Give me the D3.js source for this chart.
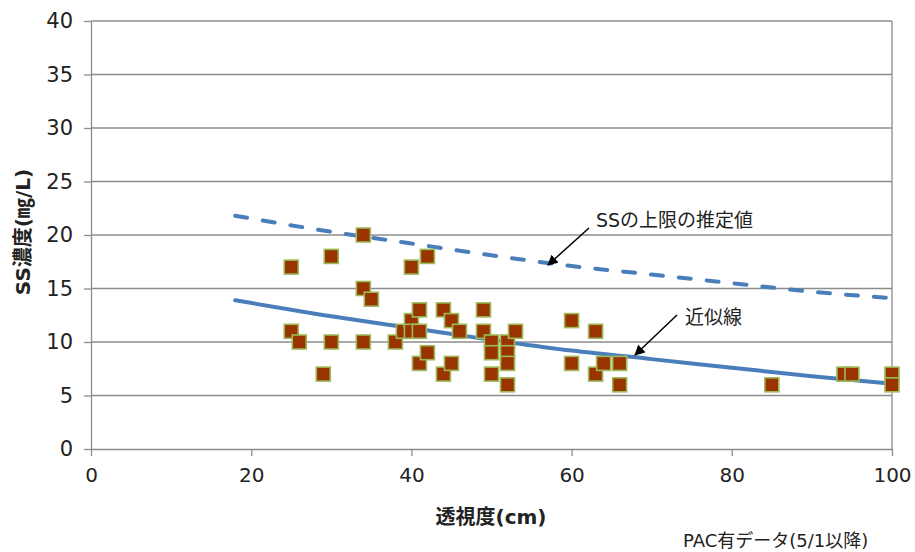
<!DOCTYPE html>
<html>
<head>
<meta charset="utf-8">
<script src="https://cdn.jsdelivr.net/npm/d3@7"></script>
<style>
  body { margin: 0; background: #fff; }
  text { font-family: "DejaVu Sans", "Noto Sans CJK JP", sans-serif; fill: #222; }
</style>
</head>
<body>
<svg width="915" height="552"></svg>
<script>
// measured points: transparency (cm) vs SS (mg/L)
var pointX = [25, 25, 26, 29, 30, 30, 34, 34, 34, 35, 38, 39, 40, 40, 40, 41, 41, 41, 42, 42,
              44, 44, 45, 45, 46, 49, 49, 50, 50, 50, 52, 52, 52, 52, 53,
              60, 60, 63, 63, 64, 66, 66, 85, 94, 95, 100, 100];
var pointY = [17, 11, 10, 7, 18, 10, 20, 15, 10, 14, 10, 11, 17, 12, 11, 11, 13, 8, 18, 9,
              13, 7, 12, 8, 11, 13, 11, 10, 9, 7, 10, 9, 8, 6, 11,
              12, 8, 11, 7, 8, 8, 6, 6, 7, 7, 7, 6];

// trend line and upper estimate
var lineX = [18, 30, 40, 50, 60, 70, 80, 90, 100];
var trendY = [13.9, 12.4, 11.3, 10.2, 9.2, 8.4, 7.6, 6.8, 6.1];
var upperY = [21.8, 20.3, 19.2, 18.1, 17.1, 16.3, 15.5, 14.7, 14.1];

var xTicks = [0, 20, 40, 60, 80, 100];
var yTicks = [0, 5, 10, 15, 20, 25, 30, 35, 40];

var plotLeft = 91, plotRight = 892, plotTop = 21, plotBottom = 449;
var gridColor = '#8c8c8c';
var lineColor = '#4a7ebb';

var svg = d3.select('svg');
var x = d3.scaleLinear().domain([0, 100]).range([plotLeft, plotRight]);
var y = d3.scaleLinear().domain([0, 40]).range([plotBottom, plotTop]);

// horizontal gridlines
svg.append('g').selectAll('line').data(yTicks.filter(function(d){ return d > 0; }))
  .enter().append('line')
    .attr('x1', plotLeft).attr('x2', plotRight)
    .attr('y1', function(d){ return y(d); })
    .attr('y2', function(d){ return y(d); })
    .attr('stroke', gridColor).attr('stroke-width', 1.3);

// right border of plot area
svg.append('line')
  .attr('x1', plotRight).attr('x2', plotRight).attr('y1', plotTop).attr('y2', plotBottom)
  .attr('stroke', gridColor).attr('stroke-width', 1.3);

// y axis
var yAxis = svg.append('g')
  .attr('transform', 'translate(' + plotLeft + ',0)')
  .call(d3.axisLeft(y).tickValues(yTicks).tickSize(7).tickSizeOuter(0).tickPadding(11));
yAxis.selectAll('text').style('font-size', '21px').attr('fill', '#222');

// x axis
var xAxis = svg.append('g')
  .attr('transform', 'translate(0,' + plotBottom + ')')
  .call(d3.axisBottom(x).tickValues(xTicks).tickSize(7).tickSizeOuter(0).tickPadding(12));
xAxis.selectAll('text').style('font-size', '20px').attr('fill', '#222');

[yAxis, xAxis].forEach(function(a){
  a.select('.domain').attr('stroke', gridColor).attr('stroke-width', 1.3);
  a.selectAll('.tick line').attr('stroke', gridColor).attr('stroke-width', 1.3);
});

// lines
var line = d3.line()
  .x(function(d){ return x(d[0]); })
  .y(function(d){ return y(d[1]); })
  .curve(d3.curveMonotoneX);

svg.append('path')
  .datum(d3.zip(lineX, upperY))
  .attr('d', line)
  .attr('fill', 'none')
  .attr('stroke', lineColor)
  .attr('stroke-width', 4)
  .attr('stroke-linecap', 'round')
  .attr('stroke-dasharray', '12,16');

svg.append('path')
  .datum(d3.zip(lineX, trendY))
  .attr('d', line)
  .attr('fill', 'none')
  .attr('stroke', lineColor)
  .attr('stroke-width', 4)
  .attr('stroke-linecap', 'round');

// points
var s = 14;
svg.append('g').selectAll('rect').data(d3.zip(pointX, pointY))
  .enter().append('rect')
    .attr('x', function(d){ return x(d[0]) - s / 2; })
    .attr('y', function(d){ return y(d[1]) - s / 2; })
    .attr('width', s).attr('height', s)
    .attr('fill', '#993300')
    .attr('stroke', '#9bbb59')
    .attr('stroke-width', 1.6);

// axis titles
svg.append('text')
  .attr('x', 491).attr('y', 524)
  .attr('text-anchor', 'middle')
  .style('font-size', '20px').style('font-weight', 'bold')
  .text('透視度(cm)');

svg.append('text')
  .attr('transform', 'translate(30,232) rotate(-90)')
  .attr('text-anchor', 'middle')
  .style('font-size', '20px').style('font-weight', 'bold')
  .text('SS濃度(㎎/L)');

// annotations with arrows
svg.append('defs').append('marker')
  .attr('id', 'arrow')
  .attr('viewBox', '0 0 10 10')
  .attr('refX', 9).attr('refY', 5)
  .attr('markerWidth', 7).attr('markerHeight', 7)
  .attr('orient', 'auto')
  .append('path').attr('d', 'M0,0 L10,5 L0,10 z').attr('fill', '#000');

svg.append('text')
  .attr('x', 596).attr('y', 227)
  .style('font-size', '19px')
  .text('SSの上限の推定値');
svg.append('line')
  .attr('x1', 589).attr('y1', 228).attr('x2', 548).attr('y2', 265)
  .attr('stroke', '#000').attr('stroke-width', 1.5)
  .attr('marker-end', 'url(#arrow)');

svg.append('text')
  .attr('x', 685).attr('y', 324)
  .style('font-size', '19px')
  .text('近似線');
svg.append('line')
  .attr('x1', 677).attr('y1', 315).attr('x2', 635).attr('y2', 355)
  .attr('stroke', '#000').attr('stroke-width', 1.5)
  .attr('marker-end', 'url(#arrow)');

svg.append('text')
  .attr('x', 683).attr('y', 547)
  .style('font-size', '18px')
  .text('PAC有データ(5/1以降)');
</script>
</body>
</html>
